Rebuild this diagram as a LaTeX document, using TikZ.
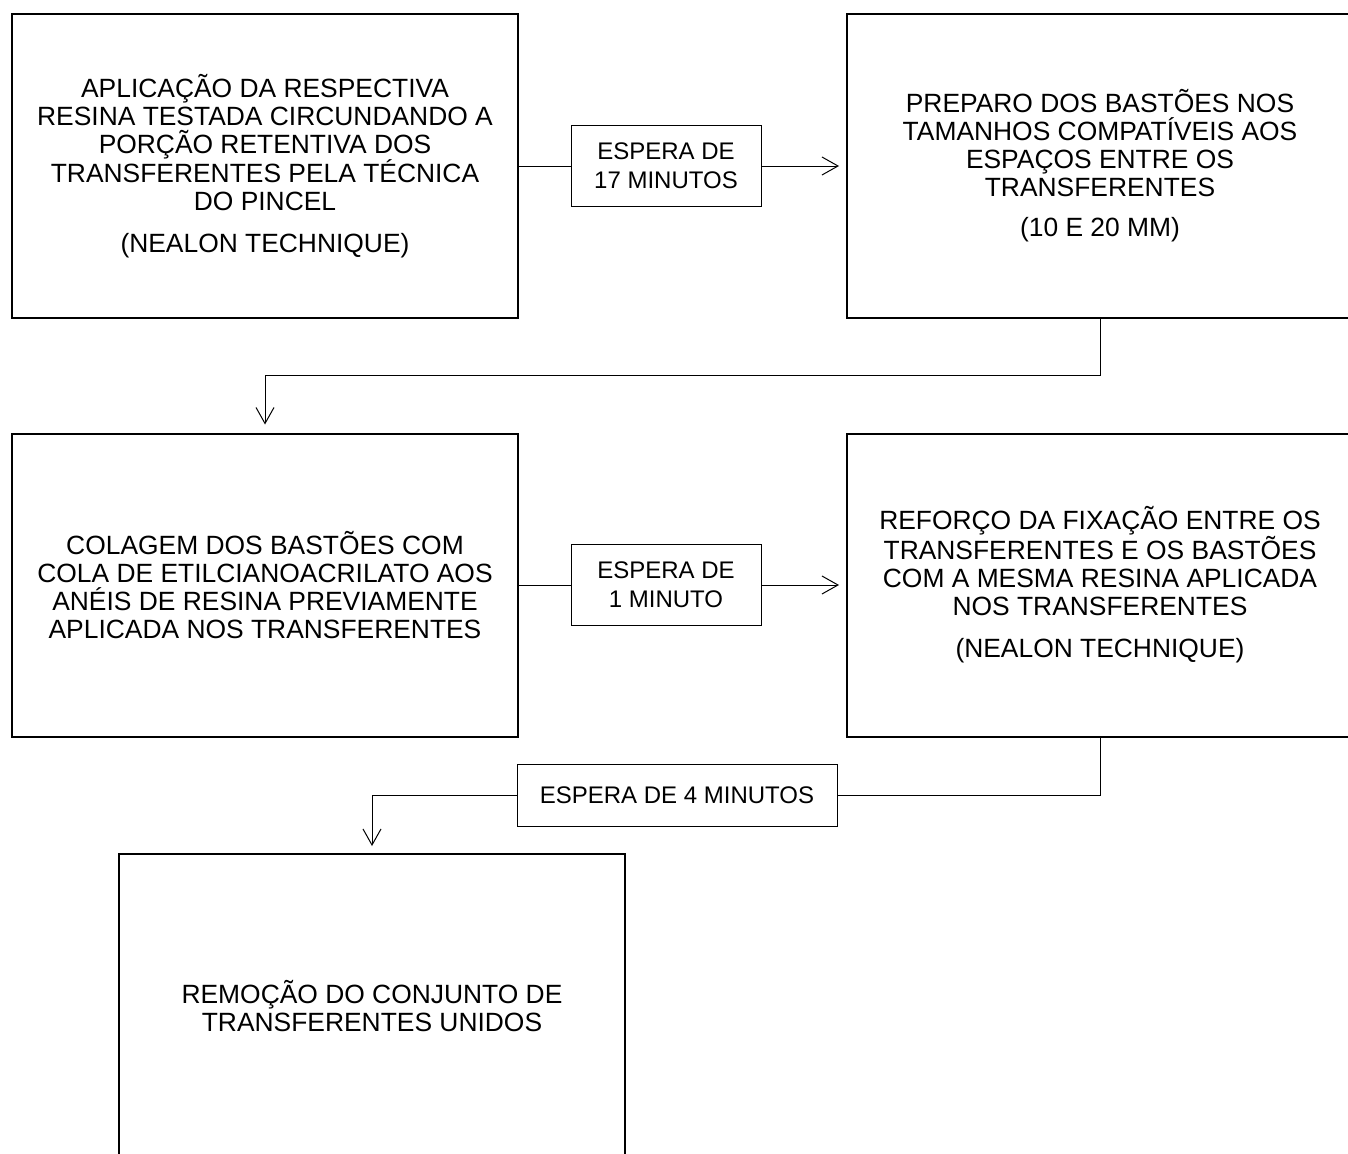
\documentclass[tikz,border=0pt]{standalone}
\usepackage{fontspec}
\setmainfont{Liberation Sans}
\usetikzlibrary{arrows.meta}
\begin{document}
\begin{tikzpicture}[x=1pt,y=-1pt,
  bigbox/.style={draw,line width=2pt,minimum width=506pt,minimum height=303pt,inner sep=0pt,align=center,font=\fontsize{26.4}{28}\selectfont},
  waitbox/.style={draw,line width=1pt,inner sep=0pt,align=center,font=\fontsize{24}{29}\selectfont},
  conn/.style={line width=1pt},
  arr/.style={line width=1pt,-{Straight Barb[length=16pt,width=18pt,line width=1pt]}}]
\clip (0,0) rectangle (1348,1153);
\useasboundingbox (0,0) rectangle (1348,1153);
\node[bigbox] (b1) at (265,166) {APLICAÇÃO DA RESPECTIVA\\RESINA TESTADA CIRCUNDANDO A\\PORÇÃO RETENTIVA DOS\\TRANSFERENTES PELA TÉCNICA\\DO PINCEL\\[14pt](NEALON TECHNIQUE)};
\node[bigbox] (b2) at (1100,166) {PREPARO DOS BASTÕES NOS\\TAMANHOS COMPATÍVEIS AOS\\ESPAÇOS ENTRE OS\\TRANSFERENTES\\[12pt](10 E 20 MM)};
\node[waitbox,minimum width=190pt,minimum height=81pt] (w1) at (666,166) {ESPERA DE\\17 MINUTOS};
\node[bigbox] (b3) at (265,585) {COLAGEM DOS BASTÕES COM\\COLA DE ETILCIANOACRILATO AOS\\ANÉIS DE RESINA PREVIAMENTE\\APLICADA NOS TRANSFERENTES};
\node[bigbox] (b4) at (1100,585) {REFORÇO DA FIXAÇÃO ENTRE OS\\TRANSFERENTES E OS BASTÕES\\COM A MESMA RESINA APLICADA\\NOS TRANSFERENTES\\[14pt](NEALON TECHNIQUE)};
\node[waitbox,minimum width=190pt,minimum height=81pt] (w2) at (666,585) {ESPERA DE\\1 MINUTO};
\node[waitbox,minimum width=320pt,minimum height=62pt] (w3) at (677,795) {ESPERA DE 4 MINUTOS};
\node[bigbox,minimum height=304pt] (b5) at (372,1006) {REMOÇÃO DO CONJUNTO DE\\TRANSFERENTES UNIDOS};
\coordinate (c1) at (1100,375);
\coordinate (c2) at (265,375);
\coordinate (c3) at (1100,795);
\coordinate (c4) at (372,795);
\draw[conn] (b1.east) -- (w1.west);
\draw[arr,shorten >=7pt] (w1.east) -- (b2.west);
\draw[conn] (b3.east) -- (w2.west);
\draw[arr,shorten >=7pt] (w2.east) -- (b4.west);
\draw[arr,shorten >=8pt] (b2.south) -- (c1) -- (c2) -- (b3.north);
\draw[conn] (b4.south) -- (c3) -- (w3.east);
\draw[arr,shorten >=7pt] (w3.west) -- (c4) -- (b5.north);
\end{tikzpicture}
\end{document}
